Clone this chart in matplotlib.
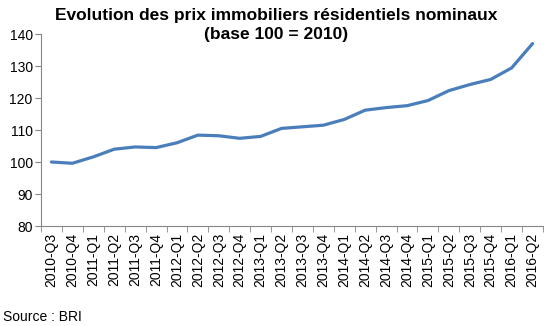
import matplotlib
matplotlib.use("Agg")
import matplotlib.pyplot as plt

plt.rcParams['font.family'] = ['Liberation Sans', 'DejaVu Sans']

# trimestres
quarters = ["2010-Q3", "2010-Q4", "2011-Q1", "2011-Q2", "2011-Q3", "2011-Q4",
            "2012-Q1", "2012-Q2", "2012-Q3", "2012-Q4", "2013-Q1", "2013-Q2",
            "2013-Q3", "2013-Q4", "2014-Q1", "2014-Q2", "2014-Q3", "2014-Q4",
            "2015-Q1", "2015-Q2", "2015-Q3", "2015-Q4", "2016-Q1", "2016-Q2"]
# indice des prix (base 100 = 2010)
prix = [100.0, 99.6, 101.6, 104.0, 104.7, 104.5,
        106.0, 108.4, 108.2, 107.4, 108.0, 110.5,
        111.0, 111.5, 113.3, 116.2, 117.0, 117.6,
        119.2, 122.3, 124.2, 125.8, 129.4, 137.0]
yticks = [80, 90, 100, 110, 120, 130, 140]

fig = plt.figure(figsize=(5.52, 3.26), dpi=100)
ax = fig.add_axes([41/552, 1 - 226/326, (543 - 41)/552, (226 - 34)/326])

x = list(range(len(quarters)))
ax.plot(x, prix, color="#4A7EBB", linewidth=2.3, solid_capstyle="round")

ax.set_xlim(-0.5, len(quarters) - 0.5)
ax.set_ylim(80, 140)
ax.set_yticks(yticks)
ax.set_xticks(x)
ax.set_xticklabels(quarters, rotation=90, fontsize=10)
ax.set_xticks([i - 0.5 for i in range(len(quarters) + 1)], minor=True)
ax.tick_params(axis="x", which="major", length=0, pad=5)
ax.tick_params(axis="x", which="minor", length=4, color="#868686")
ax.tick_params(axis="y", length=4, color="#868686", labelsize=10, pad=2)

for s in ["top", "right"]:
    ax.spines[s].set_visible(False)
for s in ["left", "bottom"]:
    ax.spines[s].set_color("#868686")

fig.text(0.5, 1 - 25/326, "Evolution des prix immobiliers résidentiels nominaux\n(base 100 = 2010)",
         ha="center", va="center", fontsize=12.5, fontweight="bold", linespacing=1.3)
fig.text(3/552, 1 - 317/326, "Source : BRI", ha="left", va="center", fontsize=10)

fig.savefig("out.png", dpi=100)
